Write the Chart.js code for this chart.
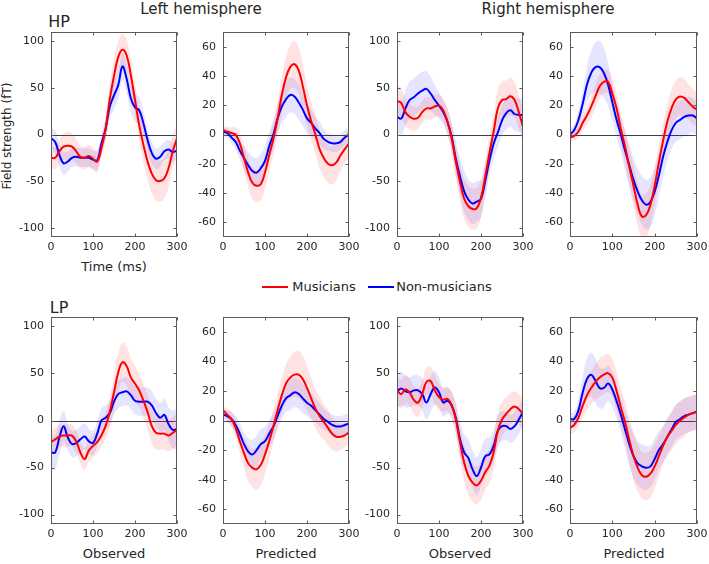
<!DOCTYPE html>
<html>
<head>
<meta charset="utf-8">
<script src="https://cdn.jsdelivr.net/npm/chart.js@4.4.1/dist/chart.umd.min.js"></script>
<style>
body { margin:0; background:#fff; width:709px; height:564px; position:relative; overflow:hidden; font-family:"DejaVu Sans", sans-serif; color:#262626; }
.panel { position:absolute; }
.txt { position:absolute; white-space:nowrap; transform:translate(-50%,-50%); }
.leg { position:absolute; height:2px; }
</style>
</head>
<body>
<div class="txt" style="left:201px; top:9px; font-size:15px;">Left hemisphere</div>
<div class="txt" style="left:548px; top:9px; font-size:15px;">Right hemisphere</div>
<div class="txt" style="left:59px; top:21px; font-size:16px;">HP</div>
<div class="txt" style="left:59px; top:307px; font-size:16px;">LP</div>
<div class="txt" style="left:7px; top:136px; font-size:12px; transform:translate(-50%,-50%) rotate(-90deg);">Field strength (fT)</div>
<div class="txt" style="left:114px; top:266px; font-size:13px;">Time (ms)</div>

<div class="leg" style="left:262px; top:286px; width:26px; background:#ff0000;"></div>
<div class="txt" style="left:324px; top:286px; font-size:13px;">Musicians</div>
<div class="leg" style="left:368px; top:286px; width:26px; background:#0000ff;"></div>
<div class="txt" style="left:444px; top:286px; font-size:13px;">Non-musicians</div>

<div class="txt" style="left:114px; top:553px; font-size:13px;">Observed</div>
<div class="txt" style="left:286px; top:553px; font-size:13px;">Predicted</div>
<div class="txt" style="left:460px; top:553px; font-size:13px;">Observed</div>
<div class="txt" style="left:634px; top:553px; font-size:13px;">Predicted</div>

<script>
const times = [0,10,20,30,40,50,60,70,80,90,100,110,120,130,140,150,160,170,180,190,200,210,220,230,240,250,260,270,280,290,300];
const xTicks = [0,100,200,300];
const yTicksObs = [-100,-50,0,50,100];
const yTicksPred = [-60,-40,-20,0,20,40,60];

// HP, left hemisphere, observed
const hpLeftObsMus = [-25,-25,-18,-13,-12,-13,-18,-24,-25,-23,-26,-29,-15,6,38,63,83,91,85,64,37,10,-11,-29,-42,-49,-50,-47,-36,-18,-4];
const hpLeftObsMusSe = [12,12,13,14,15,14,13,12,12,12,12,12,12,14,16,17,17,17,17,17,17,18,19,20,21,22,22,22,20,18,15];
const hpLeftObsNon = [-4,-8,-22,-31,-29,-25,-24,-25,-25,-25,-27,-28,-10,6,30,42,53,73,60,39,29,26,12,-6,-20,-26,-24,-18,-16,-19,-17];
const hpLeftObsNonSe = [12,12,12,12,11,10,10,10,10,10,10,10,10,12,14,15,15,15,15,15,15,14,13,12,12,11,11,10,10,10,10];

// HP, left hemisphere, predicted
const hpLeftPredMus = [3,2,1,0,-6,-16,-26,-33,-35,-34,-26,-14,-3,11,27,39,46,48,44,33,20,9,0,-10,-16,-20,-21,-19,-14,-10,-6];
const hpLeftPredMusSe = [3,3,4,5,7,9,10,11,11,11,11,11,11,12,13,14,15,16,16,15,14,13,13,13,13,13,13,12,11,10,9];
const hpLeftPredNon = [2,1,-2,-5,-11,-16,-21,-25,-26,-23,-18,-8,0,11,19,24,27,26,22,17,11,8,4,1,-3,-5,-6,-6,-5,-2,0];
const hpLeftPredNonSe = [3,3,4,5,6,8,9,10,10,10,10,10,10,10,11,12,12,12,12,11,10,9,8,8,7,6,6,6,5,5,5];

// HP, right hemisphere, observed
const hpRightObsMus = [36,34,24,19,17,18,24,28,28,30,31,26,14,-4,-29,-51,-69,-77,-80,-79,-68,-45,-20,3,28,37,38,41,37,24,8];
const hpRightObsMusSe = [16,16,15,14,13,12,12,12,12,12,12,12,14,16,18,20,22,22,22,22,20,18,18,18,20,20,20,20,19,18,18];
const hpRightObsNon = [19,17,28,37,40,44,47,49,44,37,31,24,14,-2,-26,-45,-61,-70,-74,-72,-69,-50,-28,-10,2,15,23,26,22,21,21];
const hpRightObsNonSe = [18,18,19,20,20,20,20,19,18,16,14,13,14,16,18,20,22,22,22,22,20,18,16,16,16,16,18,18,18,18,18];

// HP, right hemisphere, predicted
const hpRightPredMus = [-2,-1,2,8,13,19,26,33,36,36,28,18,4,-8,-22,-35,-48,-56,-55,-48,-35,-19,-4,9,18,24,26,25,22,19,17];
const hpRightPredMusSe = [3,3,4,5,6,7,8,8,8,8,9,10,11,12,13,14,15,15,15,14,13,12,12,12,13,13,13,13,12,12,11];
const hpRightPredNon = [0,3,10,21,34,42,46,46,42,34,22,10,0,-11,-21,-31,-39,-45,-48,-46,-39,-28,-15,-5,3,8,10,12,13,13,11];
const hpRightPredNonSe = [3,4,6,9,12,15,17,18,17,15,13,12,12,13,14,15,16,17,17,17,16,15,14,13,13,13,13,13,13,12,12];

// LP, left hemisphere, observed
const lpLeftObsMus = [-23,-20,-17,-16,-16,-16,-22,-34,-41,-32,-27,-23,-16,-6,9,30,51,62,58,46,39,32,21,9,-6,-13,-14,-14,-16,-13,-10];
const lpLeftObsMusSe = [12,12,12,12,12,12,12,12,12,12,12,12,12,14,16,18,20,21,21,20,19,18,18,18,18,18,17,17,17,17,17];
const lpLeftObsNon = [-34,-34,-18,-6,-18,-25,-24,-20,-17,-22,-24,-14,0,3,8,20,28,30,31,27,21,20,20,20,16,8,3,6,-4,-10,-9];
const lpLeftObsNonSe = [18,18,18,16,14,14,14,14,14,13,13,13,13,13,13,14,15,15,15,15,15,15,15,15,15,15,16,17,18,20,22];

// LP, left hemisphere, predicted
const lpLeftPredMus = [7,4,1,-5,-14,-22,-29,-32,-33,-30,-23,-14,-4,7,17,25,29,31,31,28,22,15,8,3,-1,-5,-9,-11,-11,-10,-8];
const lpLeftPredMusSe = [3,4,5,6,8,10,12,13,14,14,13,12,11,11,12,13,14,15,16,16,15,14,13,13,12,12,11,10,9,8,7];
const lpLeftPredNon = [4,3,1,-3,-9,-16,-21,-23,-20,-16,-14,-9,-4,3,10,15,17,19,18,15,12,10,7,4,1,-1,-3,-4,-4,-3,-2];
const lpLeftPredNonSe = [3,4,5,6,7,8,9,10,10,10,10,9,9,9,9,9,10,10,10,10,9,9,8,8,7,7,7,7,7,7,7];

// LP, right hemisphere, observed
const lpRightObsMus = [32,28,33,30,22,19,28,41,42,32,25,22,23,17,1,-23,-45,-59,-66,-69,-64,-55,-48,-34,-11,1,7,12,15,12,7];
const lpRightObsMusSe = [15,15,15,15,15,15,15,15,15,15,14,13,13,14,16,18,19,20,20,20,20,19,18,18,18,18,18,17,16,16,16];
const lpRightObsNon = [31,34,31,30,32,32,28,19,28,35,30,19,21,16,3,-20,-34,-40,-52,-59,-50,-38,-36,-27,-11,-6,-6,-9,-6,1,9];
const lpRightObsNonSe = [18,18,17,16,16,16,17,18,19,18,16,15,14,14,16,18,19,20,20,20,20,19,18,17,16,16,15,15,15,15,15];

// LP, right hemisphere, predicted
const lpRightPredMus = [-5,-3,2,10,17,22,26,29,31,32,29,20,9,-1,-13,-24,-32,-37,-38,-36,-31,-24,-17,-11,-7,-3,0,2,4,5,6];
const lpRightPredMusSe = [4,5,6,8,10,11,12,13,13,13,13,13,13,14,15,16,16,16,16,16,15,14,13,13,13,13,13,13,12,12,12];
const lpRightPredNon = [1,1,7,19,28,31,27,22,22,25,21,13,4,-6,-16,-24,-29,-31,-32,-31,-26,-20,-16,-11,-6,-1,1,3,4,5,6];
const lpRightPredNonSe = [4,5,8,11,14,15,15,14,13,12,12,12,12,13,14,15,15,15,15,14,14,13,12,12,12,12,12,12,12,12,12];

const panels = [
  {left:51,  top:32,  w:126, h:205, lim:110, yt:yTicksObs,  mus:hpLeftObsMus,   musSe:hpLeftObsMusSe,   non:hpLeftObsNon,   nonSe:hpLeftObsNonSe},
  {left:223, top:32,  w:126, h:205, lim:70,  yt:yTicksPred, mus:hpLeftPredMus,  musSe:hpLeftPredMusSe,  non:hpLeftPredNon,  nonSe:hpLeftPredNonSe},
  {left:397, top:32,  w:126, h:205, lim:110, yt:yTicksObs,  mus:hpRightObsMus,  musSe:hpRightObsMusSe,  non:hpRightObsNon,  nonSe:hpRightObsNonSe},
  {left:570, top:32,  w:127, h:205, lim:70,  yt:yTicksPred, mus:hpRightPredMus, musSe:hpRightPredMusSe, non:hpRightPredNon, nonSe:hpRightPredNonSe},
  {left:51,  top:317, w:126, h:207, lim:110, yt:yTicksObs,  mus:lpLeftObsMus,   musSe:lpLeftObsMusSe,   non:lpLeftObsNon,   nonSe:lpLeftObsNonSe},
  {left:223, top:317, w:126, h:207, lim:70,  yt:yTicksPred, mus:lpLeftPredMus,  musSe:lpLeftPredMusSe,  non:lpLeftPredNon,  nonSe:lpLeftPredNonSe},
  {left:397, top:317, w:126, h:207, lim:110, yt:yTicksObs,  mus:lpRightObsMus,  musSe:lpRightObsMusSe,  non:lpRightObsNon,  nonSe:lpRightObsNonSe},
  {left:570, top:317, w:127, h:207, lim:70,  yt:yTicksPred, mus:lpRightPredMus, musSe:lpRightPredMusSe, non:lpRightPredNon, nonSe:lpRightPredNonSe}
];

Chart.defaults.font.family = '"DejaVu Sans", sans-serif';
Chart.defaults.font.size = 11;
Chart.defaults.color = '#262626';

// matlab style box, inward ticks, zero line
const frame = {
  id: 'frame',
  beforeDatasetsDraw(chart) {
    const a = chart.chartArea, ctx = chart.ctx;
    const y0 = Math.round(chart.scales.y.getPixelForValue(0)) + 0.5;
    ctx.save();
    ctx.strokeStyle = '#404040';
    ctx.lineWidth = 1;
    ctx.beginPath();
    ctx.moveTo(a.left, y0);
    ctx.lineTo(a.right, y0);
    ctx.stroke();
    ctx.restore();
  },
  afterDraw(chart, args, opts) {
    const a = chart.chartArea, ctx = chart.ctx;
    const l = Math.round(a.left) + 0.5, r = Math.round(a.right) - 0.5;
    const t = Math.round(a.top) + 0.5, b = Math.round(a.bottom) - 0.5;
    ctx.save();
    ctx.strokeStyle = '#5a5a5a';
    ctx.lineWidth = 1;
    ctx.strokeRect(l, t, r - l, b - t);
    ctx.beginPath();
    (opts.yt || []).forEach(v => {
      const y = Math.round(chart.scales.y.getPixelForValue(v)) + 0.5;
      ctx.moveTo(l, y); ctx.lineTo(l + 3, y);
      ctx.moveTo(r, y); ctx.lineTo(r - 3, y);
    });
    xTicks.forEach(v => {
      const x = Math.round(chart.scales.x.getPixelForValue(v)) + 0.5;
      ctx.moveTo(x, b); ctx.lineTo(x, b - 3);
      ctx.moveTo(x, t); ctx.lineTo(x, t + 3);
    });
    ctx.stroke();
    ctx.restore();
  }
};

function pts(arr) {
  return times.map((t, i) => ({x: t, y: arr[i]}));
}
function band(arr, se, sign) {
  return times.map((t, i) => ({x: t, y: arr[i] + sign * se[i]}));
}

const padL = 45, padT = 8, padR = 16, padB = 22;

panels.forEach(p => {
  const W = padL + p.w + padR, H = padT + p.h + padB;
  const div = document.createElement('div');
  div.className = 'panel';
  div.style.left = (p.left - padL) + 'px';
  div.style.top = (p.top - padT) + 'px';
  div.style.width = W + 'px';
  div.style.height = H + 'px';
  const cv = document.createElement('canvas');
  cv.width = W; cv.height = H;
  div.appendChild(cv);
  document.body.appendChild(div);

  const line = {pointRadius: 0, tension: 0.4, fill: false};
  new Chart(cv, {
    type: 'line',
    data: {
      datasets: [
        Object.assign({data: pts(p.mus), borderColor: '#ff0000', borderWidth: 2}, line),
        Object.assign({data: pts(p.non), borderColor: '#0000ff', borderWidth: 2}, line),
        Object.assign({}, line, {data: band(p.mus, p.musSe, 1), borderColor: 'transparent', borderWidth: 0, backgroundColor: 'rgba(255,0,0,0.11)', fill: '+1'}),
        Object.assign({}, line, {data: band(p.mus, p.musSe, -1), borderColor: 'transparent', borderWidth: 0}),
        Object.assign({}, line, {data: band(p.non, p.nonSe, 1), borderColor: 'transparent', borderWidth: 0, backgroundColor: 'rgba(0,0,255,0.10)', fill: '+1'}),
        Object.assign({}, line, {data: band(p.non, p.nonSe, -1), borderColor: 'transparent', borderWidth: 0})
      ]
    },
    options: {
      responsive: false,
      animation: false,
      devicePixelRatio: 1,
      layout: {padding: {left: 0, top: padT, right: padR, bottom: 0}},
      plugins: {legend: {display: false}, tooltip: {enabled: false}, frame: {yt: p.yt}},
      scales: {
        x: {
          type: 'linear', min: 0, max: 300,
          grid: {display: false, drawTicks: false},
          border: {display: false},
          ticks: {padding: 4, maxRotation: 0},
          afterBuildTicks: s => { s.ticks = xTicks.map(v => ({value: v})); },
          afterFit: s => { s.height = padB; s.paddingLeft = 0; s.paddingRight = 0; }
        },
        y: {
          min: -p.lim, max: p.lim,
          grid: {display: false, drawTicks: false},
          border: {display: false},
          ticks: {padding: 7},
          afterBuildTicks: s => { s.ticks = p.yt.map(v => ({value: v})); },
          afterFit: s => { s.width = padL; s.paddingTop = 0; s.paddingBottom = 0; }
        }
      }
    },
    plugins: [frame]
  });
});
</script>
</body>
</html>
